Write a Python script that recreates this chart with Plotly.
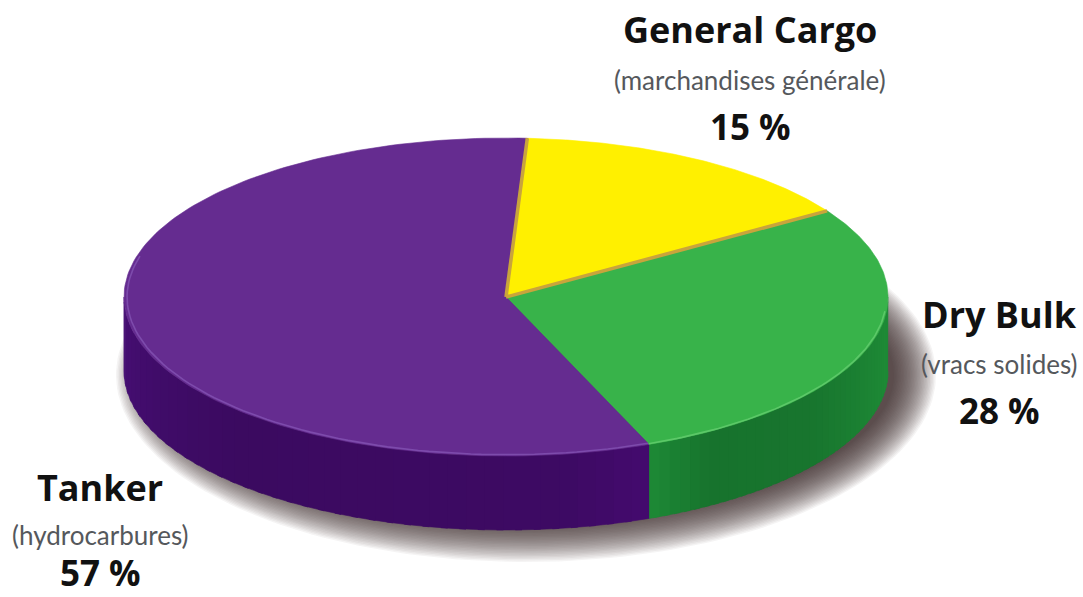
import numpy as np
import plotly.graph_objects as go

# Fleet shares by ship type, clockwise from the top of the disc
categories = ["General Cargo", "Dry Bulk", "Tanker"]
subtitles = ["(marchandises générale)", "(vracs solides)", "(hydrocarbures)"]
shares = [15, 28, 57]

top_colors = ["#fff000", "#38b34a", "#652c90"]
side_stops = {
    "Dry Bulk": [(0.0, "#1f8c37"), (0.25, "#1c8534"), (0.55, "#18752e"), (0.85, "#17732d"), (1.0, "#1d8a36")],
    "Tanker": [(0.0, "#440a6e"), (0.12, "#3d0a63"), (0.6, "#3b0a60"), (1.0, "#460e74")],
}

WIDTH, HEIGHT = 1083, 597
CX, CY, RX, RY = 506, 297, 382, 159
DEPTH = 74 / RY
ROTATION = 3.2


def hex_rgb(c):
    return np.array([int(c[i:i + 2], 16) for i in (1, 3, 5)], dtype=float)


def ramp(stops, t):
    for (a, ca), (b, cb) in zip(stops, stops[1:]):
        if t <= b:
            mix = (t - a) / (b - a)
            r, g, bl = hex_rgb(ca) * (1 - mix) + hex_rgb(cb) * mix
            return f"rgb({r:.0f},{g:.0f},{bl:.0f})"
    return stops[-1][1]


def arc(a0, a1, radius=1.0, dy=0.0, n=80):
    t = np.radians(np.linspace(a0, a1, n))
    return radius * np.sin(t), radius * np.cos(t) + dy


def poly(fig, x, y, color, line=None, width=0):
    fig.add_trace(go.Scatter(
        x=list(x), y=list(y), mode="lines", fill="toself", fillcolor=color,
        line=dict(color=line or color, width=width if line else 0.6),
        hoverinfo="skip", showlegend=False,
    ))


fig = go.Figure()

# Soft drop shadow: stacked translucent ellipses, offset to the lower right
layers = 30
for i in range(layers):
    k = 1 - i / (layers - 1)
    grow = -14 + 42 * k
    t = np.radians(np.linspace(0, 360, 200))
    sx = (RX + grow) / RX * np.sin(t) + 20 / RX
    sy = (RY + grow) / RY * np.cos(t) - DEPTH - 4 / RY
    poly(fig, sx, sy, "rgba(55,38,42,0.05)", line="rgba(0,0,0,0)", width=0)

# Slice angles follow directly from the shares
angles = ROTATION + np.concatenate([[0], np.cumsum(shares)]) * 3.6
spans = {c: (angles[i], angles[i + 1]) for i, c in enumerate(categories)}

# Cylinder wall, drawn as narrow shaded bands along the front half
for name, stops in side_stops.items():
    a0, a1 = spans[name]
    lo, hi = max(a0, 90), min(a1, 270)
    edges = np.linspace(lo, hi, 41)
    for j in range(40):
        end = min(edges[j + 1] + 1.0, hi)
        tx, ty = arc(edges[j], end, n=8)
        bx, by = arc(end, edges[j], dy=-DEPTH, n=8)
        poly(fig, np.r_[tx, bx], np.r_[ty, by], ramp(stops, (j + 0.5) / 40))

# Top faces
for i, name in enumerate(categories):
    a0, a1 = spans[name]
    ax, ay = arc(a0, a1, n=160)
    poly(fig, np.r_[0, ax, 0], np.r_[0, ay, 0], top_colors[i])

# Ochre seam round the yellow slice
a0, a1 = spans["General Cargo"]
for ang in (a0, a1):
    ex, ey = arc(ang, ang, n=2)
    fig.add_trace(go.Scatter(x=[0, ex[0]], y=[0, ey[0]], mode="lines",
                             line=dict(color="#c9a43c", width=3.5),
                             hoverinfo="skip", showlegend=False))

# Bevel highlights along the front edge of the top face
bx, by = arc(spans["Dry Bulk"][0] + 38, spans["Dry Bulk"][1], radius=0.996)
fig.add_trace(go.Scatter(x=bx, y=by, mode="lines", line=dict(color="#5cc868", width=1.6),
                         hoverinfo="skip", showlegend=False))
bx, by = arc(spans["Tanker"][0], 285, radius=0.992)
fig.add_trace(go.Scatter(x=bx, y=by, mode="lines", line=dict(color="#7d4bac", width=1.6),
                         hoverinfo="skip", showlegend=False))

# Labels
LABEL_POS = {"General Cargo": (750, 30, 80, 126), "Dry Bulk": (999, 314, 364, 410), "Tanker": (100, 487, 535, 572)}
annotations = []
for name, sub, share in zip(categories, subtitles, shares):
    x, y1, y2, y3 = LABEL_POS[name]
    for text, y, font in (
        (name, y1, dict(family="Open Sans", size=36, color="#111111", weight=700)),
        (sub, y2, dict(family="Lato", size=26, color="#55585c")),
        (f"{share} %", y3, dict(family="Open Sans", size=35, color="#111111", weight=700)),
    ):
        annotations.append(dict(
            x=x / WIDTH, y=1 - y / HEIGHT, xref="paper", yref="paper",
            text=text, showarrow=False, xanchor="center", yanchor="middle", font=font,
        ))

fig.update_layout(
    width=WIDTH, height=HEIGHT, margin=dict(l=0, r=0, t=0, b=0),
    paper_bgcolor="white", plot_bgcolor="white", showlegend=False,
    annotations=annotations,
    xaxis=dict(range=[-CX / RX, (WIDTH - CX) / RX], visible=False, fixedrange=True),
    yaxis=dict(range=[(CY - HEIGHT) / RY, CY / RY], visible=False, fixedrange=True),
)
fig.write_html("out.html", config=dict(displayModeBar=False))
